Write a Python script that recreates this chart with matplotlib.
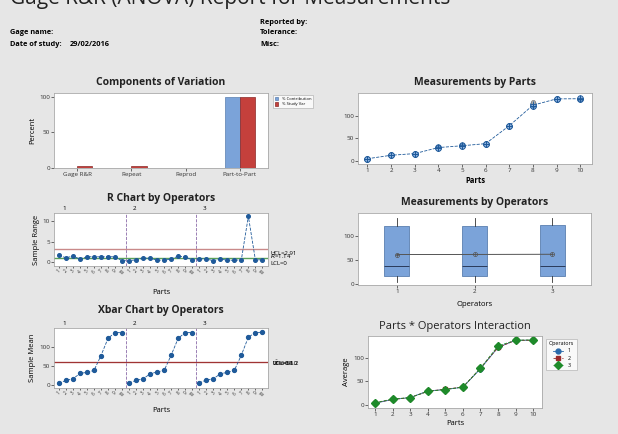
import matplotlib
matplotlib.use("Agg")
import matplotlib.pyplot as plt
import numpy as np

plt.rcParams['font.family'] = ['Open Sans', 'DejaVu Sans']

# ---------------- data ----------------
components = ["Gage R&R", "Repeat", "Reprod", "Part-to-Part"]
pct_contribution = [0.1, 0.1, 0.0, 99.9]
pct_study_var = [2.5, 2.3, 0.5, 99.97]

parts = [1, 2, 3, 4, 5, 6, 7, 8, 9, 10]
operators = ["1", "2", "3"]
op1_mean = [4, 12, 16, 30, 33, 38, 77, 122, 137, 137]
op2_mean = [5, 12, 16, 29, 34, 38, 78, 122, 137, 137]
op3_mean = [5, 13, 16, 29, 33, 38, 78, 125, 137, 138]
extra_obs_part = [8]
extra_obs_val = [131]

r_op1 = [1.7, 1.1, 1.5, 0.8, 1.3, 1.4, 1.3, 1.4, 1.3, 0.4]
r_op2 = [0.4, 0.6, 1.0, 1.0, 0.5, 0.5, 0.8, 1.5, 1.3, 0.6]
r_op3 = [0.9, 0.8, 0.4, 0.8, 0.5, 0.5, 0.6, 11.2, 0.6, 0.6]
r_ucl = 3.2
r_bar = 1.14
r_ucl_label = "UCL=2.91"
r_bar_label = r"$\bar{R}$=1.14"
r_lcl_label = "LCL=0"

xbar_ucl = 61.2
xbar_mean = 60.6
xbar_lcl = 60.0

box_q1 = [17, 17, 17]
box_med = [37, 37, 37]
box_q3 = [121, 121, 122]
box_lo = [5, 5, 5]
box_hi = [137, 137, 137]
box_mean = [61.5, 61.6, 62.0]

# ---------------- figure ----------------
W, H = 618, 434
BG = "#e6e6e6"
fig = plt.figure(figsize=(W / 100, H / 100), dpi=100, facecolor=BG)

def add_ax(x0, y0, x1, y1):
    ax = fig.add_axes([x0 / W, 1 - y1 / H, (x1 - x0) / W, (y1 - y0) / H])
    ax.set_facecolor("white")
    for s in ax.spines.values():
        s.set_color("#a8a8a8")
        s.set_linewidth(0.6)
    ax.tick_params(labelsize=4.5, length=2, width=0.5, pad=1, colors="#333333")
    return ax

def ftext(x, y, s, **kw):
    fig.text(x / W, 1 - y / H, s, **kw)

TITLE_KW = dict(fontsize=7.5, fontweight="bold", ha="center", va="center", color="#222222")

# header
ftext(10, 9, "Gage R&R (ANOVA) Report for Measurements", fontsize=15, va="bottom", ha="left", color="#222222")
ftext(10, 33, "Gage name:", fontsize=5.3, va="center", fontweight="bold")
ftext(10, 44, "Date of study:", fontsize=5.3, va="center", fontweight="bold")
ftext(70, 44, "29/02/2016", fontsize=5.3, va="center", fontweight="bold")
ftext(260, 22, "Reported by:", fontsize=5.3, va="center", fontweight="bold")
ftext(260, 33, "Tolerance:", fontsize=5.3, va="center", fontweight="bold")
ftext(260, 44, "Misc:", fontsize=5.3, va="center", fontweight="bold")

BLUE = "#7ba3d9"
RED = "#c4403c"
DBLUE = "#1f5a9a"

# ---- Components of Variation ----
ax = add_ax(54, 93, 268, 168)
x = np.arange(len(components))
w = 0.28
ax.bar(x - w / 2, pct_contribution, w, color=BLUE, edgecolor="#5a7fb0", linewidth=0.5, label="% Contribution")
ax.bar(x + w / 2, pct_study_var, w, color=RED, edgecolor="#8a2a28", linewidth=0.5, label="% Study Var")
ax.set_xticks(x)
ax.set_xticklabels(components)
ax.set_ylim(0, 105)
ax.set_xlim(-0.43, 3.52)
ax.set_yticks([0, 50, 100])
ax.set_ylabel("Percent", fontsize=5.5, labelpad=2)
ftext(161, 83, "Components of Variation", **TITLE_KW)
leg = ax.legend(loc="upper left", bbox_to_anchor=(1.015, 1.0), fontsize=3.0, frameon=True,
                handlelength=0.8, handleheight=0.9, borderpad=0.4, labelspacing=0.3, fancybox=False)
leg.get_frame().set_linewidth(0.5)
leg.get_frame().set_edgecolor("#a8a8a8")

# ---- Measurements by Parts ----
ax = add_ax(358, 93, 592, 164)
part_mean = [(a + b + c) / 3 for a, b, c in zip(op1_mean, op2_mean, op3_mean)]
for m in (op1_mean, op2_mean, op3_mean):
    ax.plot(parts, m, "o", ms=4, mfc="#8fb3df", mec=DBLUE, mew=0.6, zorder=3)
    ax.plot(parts, m, "+", ms=4, color=DBLUE, mew=0.6, zorder=4)
ax.plot(extra_obs_part, extra_obs_val, "o", ms=3, mfc="#b0b0b0", mec="#808080", mew=0.5, zorder=3)
ax.plot(parts, part_mean, "--", color=DBLUE, lw=0.6, zorder=2)
ax.set_xlim(0.6, 10.5)
ax.set_ylim(-7, 150)
ax.set_xticks(parts)
ax.set_yticks([0, 50, 100])
ax.set_xlabel("Parts", fontsize=5.5, labelpad=2, fontweight="bold")
ftext(475, 83, "Measurements by Parts", **TITLE_KW)

# ---- R Chart by Operators ----
ax = add_ax(54, 213, 268, 266)
rvals = r_op1 + r_op2 + r_op3
xi = np.arange(1, len(rvals) + 1)
ax.axhline(r_ucl, color="#c98a8a", lw=1.0)
ax.axhline(r_bar, color="#5aa05a", lw=1.0)
ax.plot(xi, rvals, "--", color=DBLUE, lw=0.6)
ax.plot(xi, rvals, "o", ms=2.6, color=DBLUE)
for b in (10.5, 20.5):
    ax.axvline(b, color="#8a6aa8", lw=0.6, ls="--")
ax.set_xlim(0.3, 30.8)
ax.set_ylim(-0.9, 12)
ax.set_yticks([0, 5, 10])
ax.set_xticks(xi)
ax.set_xticklabels([str(p) for p in parts] * 3, rotation=45, fontsize=3.3)
ax.tick_params(axis="x", pad=0.5, length=1.5)
ax.set_ylabel("Sample Range", fontsize=5.5, labelpad=2)
for i, op in enumerate(operators):
    ax.text(1.8 + 10 * i, 12.5, op, fontsize=4.5, ha="center", va="bottom")
tr = ax.get_yaxis_transform()
ax.text(1.01, r_ucl - 1.0, r_ucl_label, transform=tr, fontsize=4.3, va="center", ha="left")
ax.text(1.01, r_bar + 0.2, r_bar_label, transform=tr, fontsize=4.3, va="center", ha="left")
ax.text(1.01, -0.4, r_lcl_label, transform=tr, fontsize=4.3, va="center", ha="left")
ftext(161, 198, "R Chart by Operators", **TITLE_KW)
ftext(161, 292, "Parts", fontsize=5.5, ha="center", va="center")

# ---- Measurements by Operators ----
ax = add_ax(358, 213, 591, 285)
stats = []
for i in range(3):
    stats.append(dict(med=box_med[i], q1=box_q1[i], q3=box_q3[i],
                      whislo=box_lo[i], whishi=box_hi[i], fliers=[], label=operators[i]))
ax.bxp(stats, positions=[1, 2, 3], widths=0.32, patch_artist=True, showcaps=False,
       boxprops=dict(facecolor=BLUE, edgecolor="#5a7fb0", linewidth=0.6),
       medianprops=dict(color="#2a3a5a", linewidth=0.7),
       whiskerprops=dict(color="#333333", linewidth=0.6))
ax.plot([1, 2, 3], box_mean, "-", color="#555555", lw=0.7, zorder=3)
ax.plot([1, 2, 3], box_mean, "o", ms=3, mfc="none", mec="#555555", mew=0.5, zorder=4)
ax.plot([1, 2, 3], box_mean, "+", ms=3, color="#555555", mew=0.5, zorder=4)
ax.set_xlim(0.5, 3.5)
ax.set_ylim(-2, 148)
ax.set_yticks([0, 50, 100])
ftext(475, 203, "Measurements by Operators", **TITLE_KW)
ftext(475, 304, "Operators", fontsize=5.5, ha="center", va="center")

# ---- Xbar Chart by Operators ----
ax = add_ax(54, 328, 268, 388)
xvals = op1_mean + op2_mean + op3_mean
ax.axhline(xbar_ucl, color="#a03434", lw=0.8)
ax.axhline(xbar_mean, color="#a03434", lw=0.8)
ax.axhline(xbar_lcl, color="#a03434", lw=0.8)
for k in range(3):
    seg = slice(10 * k, 10 * k + 10)
    ax.plot(xi[seg], xvals[seg], "--", color=DBLUE, lw=0.6)
ax.plot(xi, xvals, "o", ms=2.8, color=DBLUE)
for b in (10.5, 20.5):
    ax.axvline(b, color="#8a6aa8", lw=0.6, ls="--")
ax.set_xlim(0.3, 30.8)
ax.set_ylim(-8, 149)
ax.set_yticks([0, 50, 100])
ax.set_xticks(xi)
ax.set_xticklabels([str(p) for p in parts] * 3, rotation=45, fontsize=3.3)
ax.tick_params(axis="x", pad=0.5, length=1.5)
ax.set_ylabel("Sample Mean", fontsize=5.5, labelpad=2)
for i, op in enumerate(operators):
    ax.text(1.8 + 10 * i, 153, op, fontsize=4.5, ha="center", va="bottom")
tr = ax.get_yaxis_transform()
ax.text(1.02, 66, "_", transform=tr, fontsize=4.3, va="center", ha="left")
ax.text(1.02, 57, "UCL=61.2", transform=tr, fontsize=4.3, va="center", ha="left")
ax.text(1.025, 57, r"$\bar{X}$=60.6", transform=tr, fontsize=4.3, va="center", ha="left")
ax.text(1.02, 57, "LCL=60.0", transform=tr, fontsize=4.3, va="center", ha="left")
ftext(161, 310, "Xbar Chart by Operators", **TITLE_KW)
ftext(161, 410, "Parts", fontsize=5.5, ha="center", va="center")

# ---- Parts * Operators Interaction ----
ax = add_ax(368, 336, 542, 408)
ax.plot(parts, op1_mean, "o-", color="#2a6aaa", ms=3.5, lw=0.6, label="1")
ax.plot(parts, op2_mean, "s--", color="#9a2a2a", ms=3.5, lw=0.6, label="2")
ax.plot(parts, op3_mean, "D--", color="#1e8a2a", ms=4.5, lw=0.6, label="3")
ax.set_xlim(0.6, 10.5)
ax.set_ylim(-6, 146)
ax.set_xticks(parts)
ax.set_yticks([0, 50, 100])
ax.set_xlabel("Parts", fontsize=5.5, labelpad=2)
ax.set_ylabel("Average", fontsize=5.5, labelpad=2)
leg = ax.legend(loc="upper left", bbox_to_anchor=(1.01, 1.0), fontsize=3.8, title="Operators",
                title_fontsize=3.8, frameon=True, fancybox=False, handlelength=2.0,
                borderpad=0.5, labelspacing=0.4)
leg.get_frame().set_linewidth(0.5)
leg.get_frame().set_edgecolor("#a8a8a8")
ftext(455, 326, "Parts * Operators Interaction", fontsize=8, ha="center", va="center", color="#222222")

fig.savefig("out.png", dpi=100, facecolor=BG)
